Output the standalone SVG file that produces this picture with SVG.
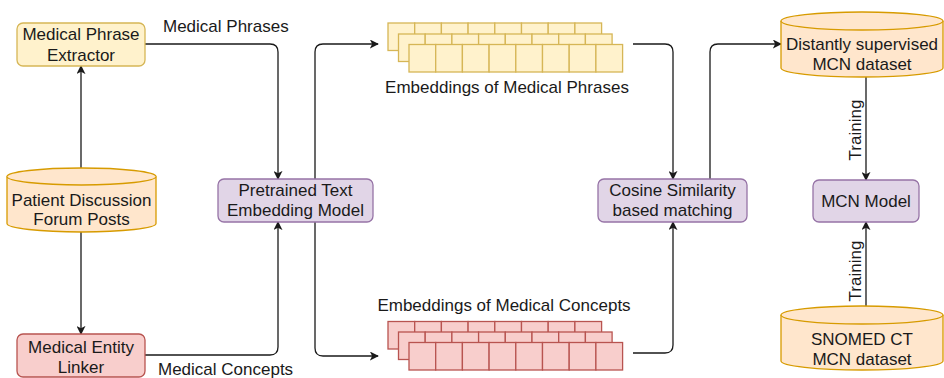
<svg xmlns="http://www.w3.org/2000/svg" xmlns:xlink="http://www.w3.org/1999/xlink" width="944" height="378" viewBox="0 0 944 378">
<defs>
<style>
text{font-family:"Liberation Sans",Arial,sans-serif;font-size:17px;fill:#1a1a1a}
.c{text-anchor:middle}
.yel{fill:#fff2cc;stroke:#d6b656;stroke-width:1.3}
.red{fill:#f8cecc;stroke:#b85450;stroke-width:1.3}
.pur{fill:#e1d5e7;stroke:#9673a6;stroke-width:1.3}
.cyl{fill:#ffe6cc;stroke:#d79b00;stroke-width:1.3}
.ln{fill:none;stroke:#1a1a1a;stroke-width:1.3;marker-end:url(#ah)}
.ln0{fill:none;stroke:#1a1a1a;stroke-width:1.3}
</style>
<marker id="ah" viewBox="0 0 10 10" refX="9" refY="5" markerWidth="9" markerHeight="9" markerUnits="userSpaceOnUse" orient="auto">
<path d="M0,0 L10,5 L0,10 L2.5,5 Z" fill="#1a1a1a"/>
</marker>
<g id="rowY">
<rect class="yel" x="0" y="0" width="26.7" height="27.5"/>
<rect class="yel" x="26.7" y="0" width="26.7" height="27.5"/>
<rect class="yel" x="53.4" y="0" width="26.7" height="27.5"/>
<rect class="yel" x="80.1" y="0" width="26.7" height="27.5"/>
<rect class="yel" x="106.8" y="0" width="26.7" height="27.5"/>
<rect class="yel" x="133.5" y="0" width="26.7" height="27.5"/>
<rect class="yel" x="160.2" y="0" width="26.7" height="27.5"/>
<rect class="yel" x="186.9" y="0" width="26.7" height="27.5"/>
</g>
<g id="rowR">
<rect class="red" x="0" y="0" width="26.7" height="27.5"/>
<rect class="red" x="26.7" y="0" width="26.7" height="27.5"/>
<rect class="red" x="53.4" y="0" width="26.7" height="27.5"/>
<rect class="red" x="80.1" y="0" width="26.7" height="27.5"/>
<rect class="red" x="106.8" y="0" width="26.7" height="27.5"/>
<rect class="red" x="133.5" y="0" width="26.7" height="27.5"/>
<rect class="red" x="160.2" y="0" width="26.7" height="27.5"/>
<rect class="red" x="186.9" y="0" width="26.7" height="27.5"/>
</g>
</defs>
<rect width="944" height="378" fill="#fff"/>

<g id="connectors">
<path class="ln" d="M145,44 H270 Q278,44 278,52 V179"/>
<path class="ln" d="M315,179 V52 Q315,44 323,44 H378"/>
<path class="ln" d="M81,168 V66"/>
<path class="ln" d="M81,232 V334"/>
<path class="ln" d="M145,355 H270 Q278,355 278,347 V222"/>
<path class="ln" d="M315,222 V348 Q315,356 323,356 H378"/>
<path class="ln" d="M633,44 H665 Q673,44 673,52 V179"/>
<path class="ln" d="M633,353 H665 Q673,353 673,345 V222"/>
<path class="ln" d="M710,179 V52 Q710,44 718,44 H781"/>
<path class="ln" d="M866,77 V180"/>
<path class="ln" d="M866,306 V222"/>
<text x="163" y="32">Medical Phrases</text>
<text x="158" y="375">Medical Concepts</text>
<text class="c" transform="translate(861,130) rotate(-90)">Training</text>
<text class="c" transform="translate(861,271) rotate(-90)">Training</text>
</g>

<g id="extractor">
<rect class="yel" x="17" y="23" width="128" height="43" rx="6"/>
<text class="c" x="81" y="40">Medical Phrase</text>
<text class="c" x="81" y="61">Extractor</text>
</g>

<g id="patient">
<path class="cyl" d="M7,176.5 A74.5,8.5 0 0 1 156,176.5 V223.5 A74.5,8.5 0 0 1 7,223.5 Z"/>
<path class="cyl" d="M7,176.5 A74.5,8.5 0 0 0 156,176.5" fill="none"/>
<text class="c" x="81.5" y="206">Patient Discussion</text>
<text class="c" x="81.5" y="225">Forum Posts</text>
</g>

<g id="linker">
<rect class="red" x="17" y="334" width="128" height="43" rx="6"/>
<text class="c" x="81" y="353">Medical Entity</text>
<text class="c" x="81" y="373">Linker</text>
</g>

<g id="pretrained">
<rect class="pur" x="218" y="179" width="155" height="43" rx="6"/>
<text class="c" x="295.5" y="196">Pretrained Text</text>
<text class="c" x="295.5" y="216">Embedding Model</text>
</g>

<g id="phrase-embeddings">
<use xlink:href="#rowY" x="388" y="23"/>
<use xlink:href="#rowY" x="398.5" y="34"/>
<use xlink:href="#rowY" x="409" y="44.5"/>
<text class="c" x="507" y="93">Embeddings of Medical Phrases</text>
</g>

<g id="concept-embeddings">
<use xlink:href="#rowR" x="388" y="321.5"/>
<use xlink:href="#rowR" x="398.5" y="332"/>
<use xlink:href="#rowR" x="409" y="342.5"/>
<text class="c" x="504" y="311">Embeddings of Medical Concepts</text>
</g>

<g id="cosine">
<rect class="pur" x="598" y="179" width="149" height="43" rx="6"/>
<text class="c" x="672.5" y="196">Cosine Similarity</text>
<text class="c" x="672.5" y="216">based matching</text>
</g>

<g id="distant">
<path class="cyl" d="M781,21 A81,9 0 0 1 943,21 V68 A81,9 0 0 1 781,68 Z"/>
<path class="cyl" d="M781,21 A81,9 0 0 0 943,21" fill="none"/>
<text class="c" x="862" y="50">Distantly supervised</text>
<text class="c" x="862" y="70">MCN dataset</text>
</g>

<g id="mcn-model">
<rect class="pur" x="813" y="180" width="106" height="42" rx="6"/>
<text class="c" x="866" y="207">MCN Model</text>
</g>

<g id="snomed">
<path class="cyl" d="M781,315 A81,9 0 0 1 943,315 V361 A81,9 0 0 1 781,361 Z"/>
<path class="cyl" d="M781,315 A81,9 0 0 0 943,315" fill="none"/>
<text class="c" x="862" y="345">SNOMED CT</text>
<text class="c" x="862" y="365">MCN dataset</text>
</g>
</svg>
